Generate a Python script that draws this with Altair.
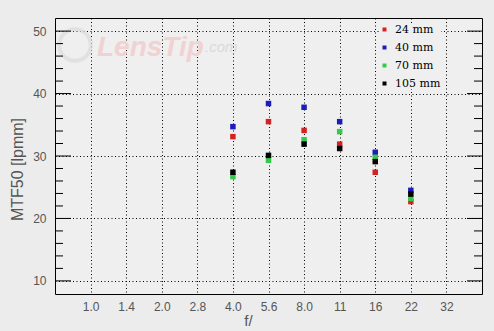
import altair as alt
import pandas as pd

apertures = ["1.0", "1.4", "2.0", "2.8", "4.0", "5.6", "8.0", "11", "16", "22", "32"]
meas_f = ["4.0", "5.6", "8.0", "11", "16", "22"]
mtf_24 = [33.1, 35.5, 34.1, 31.9, 27.4, 22.7]
mtf_40 = [34.7, 38.4, 37.8, 35.5, 30.6, 24.5]
mtf_70 = [26.7, 29.3, 32.6, 33.9, 29.8, 23.2]
mtf_105 = [27.4, 30.1, 31.9, 31.2, 29.1, 23.9]
series = ["24 mm", "40 mm", "70 mm", "105 mm"]
colors = ["#d42222", "#1c1cbc", "#35c94a", "#000000"]
major_ticks = [10, 20, 30, 40, 50]
minor_ticks = [12, 14, 16, 18, 22, 24, 26, 28, 32, 34, 36, 38, 42, 44, 46, 48]

rows = []
for name, vals in zip(series, [mtf_24, mtf_40, mtf_70, mtf_105]):
    for f, v in zip(meas_f, vals):
        rows.append({"f": f, "mtf": v, "lens": name})
df = pd.DataFrame(rows)

W, H = 427, 276
yscale = alt.Scale(domain=[7.9, 52.1], nice=False, zero=False)
xscale = alt.Scale(domain=apertures, padding=1)

pts = alt.Chart(df).mark_square(size=30, opacity=1).encode(
    x=alt.X("f:O", scale=xscale, sort=apertures,
            axis=alt.Axis(title="f/", labelAngle=0, ticks=False, domain=False,
                          grid=True, gridColor="#000", gridDash=[1, 2.5], gridOpacity=1,
                          labelPadding=7, labelFontSize=12, labelColor="#555",
                          labelFont="Liberation Sans", titleFont="Liberation Sans",
                          titleFontSize=15, titleFontWeight="normal", titleColor="#555",
                          titleX=193, titleY=31, titleBaseline="alphabetic")),
    y=alt.Y("mtf:Q", scale=yscale,
            axis=alt.Axis(title="MTF50 [lpmm]", values=major_ticks, ticks=False, domain=False,
                          grid=True, gridColor="#000", gridDash=[1, 2.5], gridOpacity=1,
                          labelPadding=9, labelFontSize=12, labelColor="#555",
                          labelFont="Liberation Sans", titleFont="Liberation Sans",
                          titleFontSize=16, titleFontWeight="normal", titleColor="#555",
                          titleX=-38, titleY=151, titleBaseline="middle")),
    color=alt.Color("lens:N", scale=alt.Scale(domain=series, range=colors),
                    sort=series,
                    legend=alt.Legend(title=None, orient="none", legendX=324, legendY=6,
                                      symbolType="square", symbolSize=16,
                                      symbolStrokeWidth=0, labelFont="DejaVu Serif",
                                      labelFontSize=11, labelColor="#000",
                                      rowPadding=6, labelOffset=5,
                                      padding=0, fillColor="#efefef")),
)

major_df = pd.DataFrame({"v": major_ticks})
minor_df = pd.DataFrame({"v": minor_ticks})

def ticks(data, x0, x1):
    return alt.Chart(data).mark_rule(color="#000", strokeWidth=1).encode(
        y=alt.Y("v:Q", scale=yscale), x=alt.value(x0), x2=alt.value(x1))

wm_df = pd.DataFrame({"t": ["LensTip"], "c": [".com"]})
logo = alt.Chart(wm_df).mark_point(shape="circle", size=1000, strokeWidth=4,
                                   color="#dcdcdc", filled=False).encode(
    x=alt.value(20), y=alt.value(27))
wm1 = alt.Chart(wm_df).mark_text(text="LensTip", font="Liberation Sans", fontSize=28,
                                 fontWeight="bold", fontStyle="italic", color="#f1d2d2",
                                 align="left", baseline="alphabetic").encode(
    x=alt.value(42), y=alt.value(38))
wm2 = alt.Chart(wm_df).mark_text(text=".com", font="Liberation Sans", fontSize=15,
                                 fontStyle="italic", color="#dadada",
                                 align="left", baseline="alphabetic").encode(
    x=alt.value(150), y=alt.value(34))

chart = alt.layer(
    logo, wm1, wm2,
    ticks(major_df, 0, 16), ticks(minor_df, 0, 8),
    ticks(major_df, W - 15, W), ticks(minor_df, W - 8, W),
    pts,
).properties(
    width=W, height=H, background="#ececec",
    padding={"left": 55, "top": 18, "right": 12, "bottom": 37},
    autosize=alt.AutoSizeParams(type="none"),
).configure_view(fill="#efefef", stroke="#000", strokeWidth=1)

chart.save("out.html", embed_options={"renderer": "svg", "actions": False})
